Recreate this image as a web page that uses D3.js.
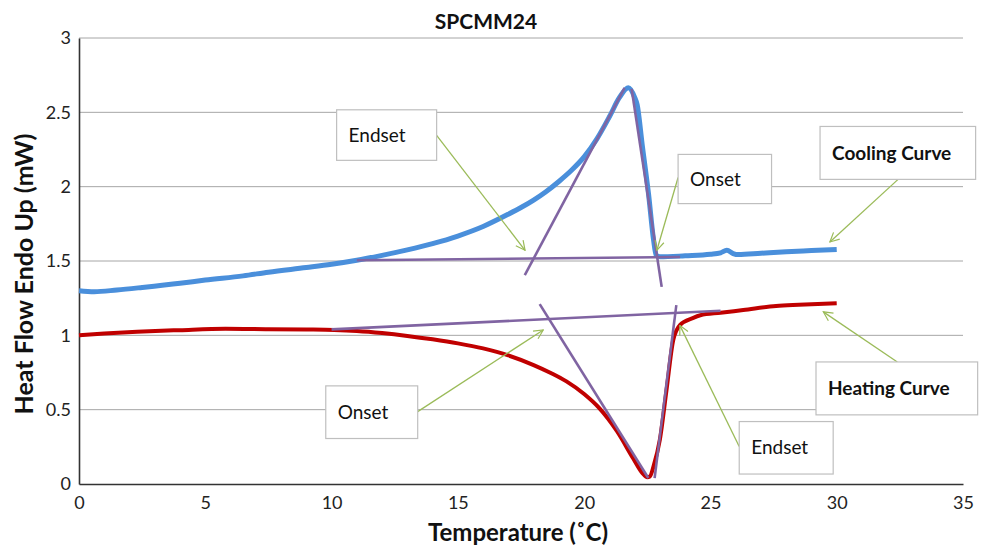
<!DOCTYPE html>
<html>
<head>
<meta charset="utf-8">
<script src="https://cdn.jsdelivr.net/npm/d3@7"></script>
<style>
  html, body { margin: 0; padding: 0; background: #fff; }
  svg { display: block; }
</style>
</head>
<body>
<svg id="chart" width="989" height="547"></svg>
<script>
// ---------------- DATA ----------------
const chartTitle = "SPCMM24";
const xAxisTitle = "Temperature (˚C)";
const yAxisTitle = "Heat Flow Endo Up (mW)";
const xTicks = [0, 5, 10, 15, 20, 25, 30, 35];
const yTicks = [0, 0.5, 1, 1.5, 2, 2.5, 3];
const yTickLabels = ["0", "0.5", "1", "1.5", "2", "2.5", "3"];

// Cooling curve (blue)
const coolingT  = [0, 0.6, 1.5, 2.5, 4, 5, 6.5, 7.5, 9, 10, 11, 12, 13, 14, 15, 16, 17, 17.5, 18, 18.5, 19, 19.5, 20, 20.5, 21, 21.4, 21.75, 22.0, 22.1, 22.3, 22.55, 22.75, 22.85, 23.0, 24, 25, 25.4, 25.65, 25.9, 26.1, 27, 28, 29, 30];
const coolingHF = [1.30, 1.293, 1.305, 1.322, 1.35, 1.372, 1.40, 1.425, 1.456, 1.478, 1.505, 1.538, 1.575, 1.617, 1.668, 1.732, 1.815, 1.86, 1.91, 1.968, 2.035, 2.11, 2.2, 2.32, 2.47, 2.6, 2.665, 2.6, 2.55, 2.28, 1.95, 1.64, 1.54, 1.528, 1.535, 1.545, 1.555, 1.572, 1.55, 1.543, 1.552, 1.562, 1.57, 1.578];

// Heating curve (red)
const heatingT  = [0, 1, 2.3, 4, 5.8, 7.5, 9, 10.1, 11, 12, 13, 14, 15, 16, 17, 18, 18.7, 19.3, 20, 20.6, 21.3, 21.95, 22.3, 22.5, 22.6, 22.75, 23.0, 23.26, 23.53, 23.8, 24.3, 24.6, 25.4, 26.3, 27.6, 28.5, 30];
const heatingHF = [1.0, 1.012, 1.024, 1.035, 1.044, 1.041, 1.039, 1.036, 1.029, 1.015, 0.996, 0.973, 0.946, 0.912, 0.865, 0.80, 0.745, 0.69, 0.605, 0.51, 0.355, 0.17, 0.075, 0.045, 0.05, 0.12, 0.30, 0.63, 0.97, 1.07, 1.116, 1.135, 1.152, 1.17, 1.197, 1.205, 1.215];

// Tangent / baseline construction lines (purple), [T1, HF1, T2, HF2]
const tangentLines = [
  [11.0, 1.505, 23.8, 1.527],   // cooling baseline
  [17.65, 1.405, 21.6, 2.664],  // cooling left tangent
  [21.88, 2.658, 23.07, 1.326], // cooling right tangent
  [10.0, 1.04, 25.4, 1.165],    // heating baseline
  [18.24, 1.21, 22.54, 0.04],   // heating left tangent
  [23.65, 1.203, 22.79, 0.04]   // heating right tangent
];

// Callouts: label, bold, box [T left, HF top, T right, HF bottom], arrow [T from, HF from, T to, HF to]
const calloutLabels = ["Endset", "Onset", "Cooling Curve", "Onset", "Heating Curve", "Endset"];
const calloutBold   = [false, false, true, false, true, false];
const calloutBoxes  = [
  [10.2, 2.517, 14.16, 2.177],
  [23.72, 2.217, 27.42, 1.886],
  [29.34, 2.405, 35.5, 2.049],
  [9.77, 0.66, 13.41, 0.306],
  [29.18, 0.821, 35.58, 0.465],
  [26.14, 0.42, 29.86, 0.067]
];
const calloutArrows = [
  [14.16, 2.345, 17.66, 1.572],
  [23.72, 2.062, 22.88, 1.572],
  [32.43, 2.049, 29.73, 1.628],
  [13.41, 0.487, 18.38, 1.036],
  [32.4, 0.821, 29.47, 1.158],
  [26.14, 0.252, 23.79, 1.067]
];

// ---------------- LAYOUT ----------------
const margin = { left: 79, right: 26, top: 38, bottom: 63 };
const W = 989, H = 547;
const FONT = "Lato, 'Open Sans', sans-serif";

const svg = d3.select("#chart");
const x = d3.scaleLinear().domain([0, 35]).range([margin.left, W - margin.right]);
const y = d3.scaleLinear().domain([0, 3]).range([H - margin.bottom, margin.top]);

// gridlines
svg.append("g")
  .selectAll("line")
  .data(yTicks.filter(d => d > 0))
  .join("line")
  .attr("x1", x(0)).attr("x2", x(35))
  .attr("y1", d => y(d)).attr("y2", d => y(d))
  .attr("stroke", "#a6a6a6").attr("stroke-width", 1);

// y axis
const yAxis = svg.append("g")
  .attr("transform", `translate(${x(0)},0)`)
  .call(d3.axisLeft(y).tickValues(yTicks).tickFormat((d, i) => yTickLabels[i]).tickSize(0).tickPadding(8));
yAxis.select(".domain").attr("stroke", "#333").attr("stroke-width", 1.6);
yAxis.selectAll("text").attr("font-family", FONT).attr("font-size", 18).attr("fill", "#222");

// x axis
const xAxis = svg.append("g")
  .attr("transform", `translate(0,${y(0)})`)
  .call(d3.axisBottom(x).tickValues(xTicks).tickFormat(d3.format("d")).tickSize(0).tickPadding(12));
xAxis.select(".domain").attr("stroke", "#333").attr("stroke-width", 1.6);
xAxis.selectAll("text").attr("font-family", FONT).attr("font-size", 18).attr("fill", "#222");

// curves
const line = d3.line().x(d => x(d[0])).y(d => y(d[1])).curve(d3.curveMonotoneX);
svg.append("path")
  .datum(coolingT.map((t, i) => [t, coolingHF[i]]))
  .attr("d", line).attr("fill", "none")
  .attr("stroke", "#4a8fdb").attr("stroke-width", 5).attr("stroke-linejoin", "round");
svg.append("path")
  .datum(heatingT.map((t, i) => [t, heatingHF[i]]))
  .attr("d", line).attr("fill", "none")
  .attr("stroke", "#c00000").attr("stroke-width", 4).attr("stroke-linejoin", "round");

// tangent lines
svg.append("g").selectAll("line")
  .data(tangentLines).join("line")
  .attr("x1", d => x(d[0])).attr("y1", d => y(d[1]))
  .attr("x2", d => x(d[2])).attr("y2", d => y(d[3]))
  .attr("stroke", "#8064a2").attr("stroke-width", 2.6);

// arrow marker
svg.append("defs").append("marker")
  .attr("id", "arrow").attr("viewBox", "0 0 12 12")
  .attr("refX", 11).attr("refY", 6)
  .attr("markerWidth", 11).attr("markerHeight", 11)
  .attr("markerUnits", "userSpaceOnUse")
  .attr("orient", "auto")
  .append("path").attr("d", "M1,1 L11,6 L1,11")
  .attr("fill", "none").attr("stroke", "#9bbb59").attr("stroke-width", 1.3);

// callouts
const cg = svg.append("g");
calloutLabels.forEach((lab, i) => {
  const b = calloutBoxes[i], a = calloutArrows[i];
  cg.append("line")
    .attr("x1", x(a[0])).attr("y1", y(a[1]))
    .attr("x2", x(a[2])).attr("y2", y(a[3]))
    .attr("stroke", "#9bbb59").attr("stroke-width", 1.3)
    .attr("marker-end", "url(#arrow)");
  cg.append("rect")
    .attr("x", x(b[0])).attr("y", y(b[1]))
    .attr("width", x(b[2]) - x(b[0])).attr("height", y(b[3]) - y(b[1]))
    .attr("fill", "#fff").attr("stroke", "#bfbfbf").attr("stroke-width", 1.2);
  cg.append("text")
    .attr("x", x(b[0]) + 12)
    .attr("y", (y(b[1]) + y(b[3])) / 2)
    .attr("dy", "0.35em")
    .attr("font-family", FONT)
    .attr("font-size", 19)
    .attr("font-weight", calloutBold[i] ? "bold" : "normal")
    .attr("fill", "#111")
    .text(lab);
});

// titles
svg.append("text")
  .attr("x", 486).attr("y", 22).attr("dy", "0.35em")
  .attr("text-anchor", "middle")
  .attr("font-family", FONT).attr("font-size", 21).attr("font-weight", "bold")
  .attr("fill", "#111").text(chartTitle);

svg.append("text")
  .attr("x", 518).attr("y", 533).attr("dy", "0.35em")
  .attr("text-anchor", "middle")
  .attr("font-family", FONT).attr("font-size", 24).attr("font-weight", "bold")
  .attr("fill", "#111").text(xAxisTitle);

svg.append("text")
  .attr("transform", "translate(24,274) rotate(-90)")
  .attr("dy", "0.35em")
  .attr("text-anchor", "middle")
  .attr("font-family", FONT).attr("font-size", 25).attr("font-weight", "bold")
  .attr("fill", "#111").text(yAxisTitle);
</script>
</body>
</html>
